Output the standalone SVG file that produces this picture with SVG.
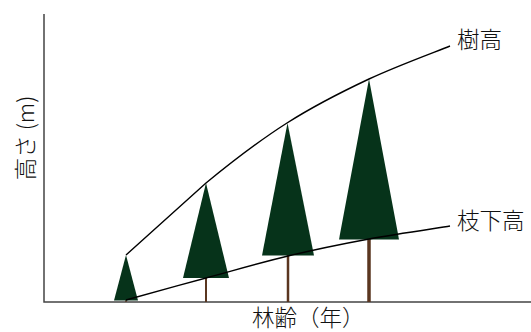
<svg xmlns="http://www.w3.org/2000/svg" width="531" height="332" viewBox="0 0 531 332">
  <style>
    .axis { stroke: #444; stroke-width: 1.5; fill: none; }
    .crown { fill: #06331a; }
    .trunk { stroke: #5a3620; fill: none; }
    .curve { stroke: #000; stroke-width: 1.4; fill: none; }
    .label { font-family: "Noto Sans CJK JP", "Noto Sans", sans-serif; font-size: 22.5px; font-weight: 300; fill: #111; }
  </style>

  <!-- axes -->
  <g id="axes">
    <path class="axis" d="M44,14 V302 H531"/>
  </g>

  <!-- trees: trunk then crown -->
  <g id="tree1">
    <line class="trunk" x1="126" y1="299" x2="126" y2="302" stroke-width="1.5"/>
    <polygon class="crown" points="126,255 114,300.5 138,300.5"/>
  </g>
  <g id="tree2">
    <line class="trunk" x1="206" y1="276" x2="206" y2="302" stroke-width="2"/>
    <polygon class="crown" points="206,183 183,278 229,278"/>
  </g>
  <g id="tree3">
    <line class="trunk" x1="288" y1="254" x2="288" y2="302" stroke-width="2.5"/>
    <polygon class="crown" points="287.5,123 262,255.5 314,255.5"/>
  </g>
  <g id="tree4">
    <line class="trunk" x1="369" y1="238" x2="369" y2="302" stroke-width="3.5"/>
    <polygon class="crown" points="369,79 339,239.5 399,239.5"/>
  </g>

  <!-- growth curves -->
  <g id="connectors">
    <path id="tree-height" class="curve" d="M126,255 L206,183 C232.8,161 259.8,140.3 287,123 C314.2,105.7 341.8,91.8 369,79 C396.2,66.2 436.5,51.5 450,46"/>
    <path id="crown-base" class="curve" d="M126,300 C139.3,296.3 179,285.3 206,278 C233,270.7 260.8,262.5 288,256 C315.2,249.5 342,244 369,239 C396,234 436.5,228.2 450,226"/>
  </g>

  <!-- labels -->
  <g id="labels">
    <text class="label" x="457" y="48">樹高</text>
    <text class="label" x="457" y="229">枝下高</text>
    <text class="label" x="252" y="325.5">林齢（年）</text>
    <text class="label" transform="translate(34,138) rotate(-90)" text-anchor="middle">高さ (m)</text>
  </g>
</svg>
